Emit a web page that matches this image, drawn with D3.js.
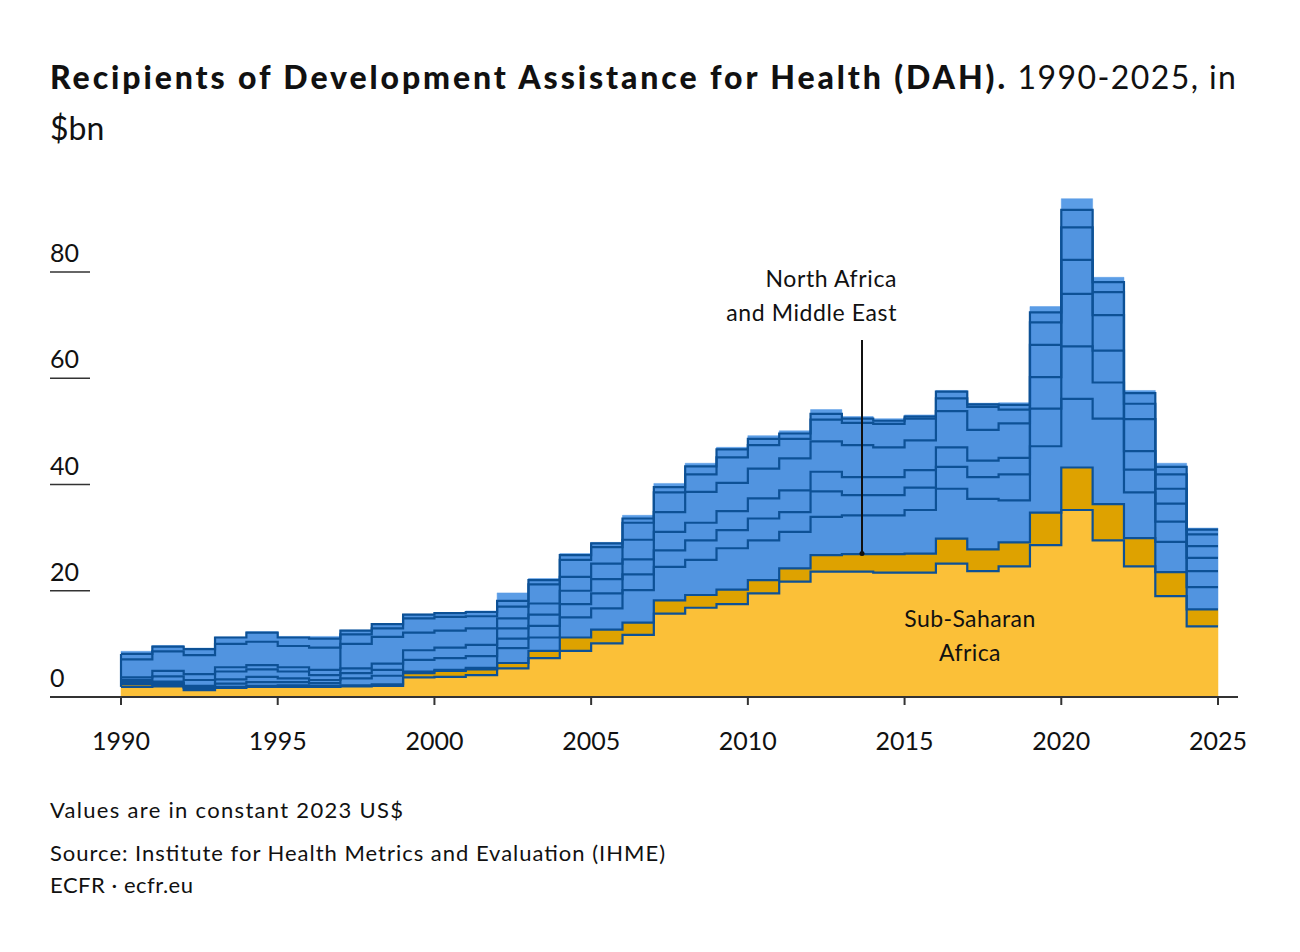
<!DOCTYPE html>
<html><head><meta charset="utf-8">
<script src="https://cdn.jsdelivr.net/npm/d3@7"></script>
<style>body{margin:0;background:#fff}svg{font-family:Lato,"Noto Sans",sans-serif}</style>
</head><body><svg id="c" width="1300" height="952"></svg>
<script>
const years = d3.range(1990, 2025);
// cumulative stack tops ($bn)
const ssaTop  = [1.9,2.0,1.3,1.7,1.9,1.9,1.9,2.0,2.1,3.7,3.8,4.1,5.4,7.3,8.7,10.1,11.7,15.7,16.8,17.5,19.5,21.7,23.6,23.6,23.4,23.4,25.1,23.7,24.6,28.6,35.2,29.5,24.6,19.0,13.3];
const nameTop = [2.4,2.3,1.7,1.9,2.1,2.2,2.1,2.2,2.4,4.5,4.9,5.2,6.4,8.7,11.2,12.7,14.0,18.2,19.2,20.2,22.0,24.2,26.7,26.9,26.9,27.0,29.8,27.8,29.1,34.7,43.2,36.3,29.9,23.5,16.5];
const blue1Top = [2.6,2.6,1.9,2.5,2.8,2.8,2.6,3.5,4.0,4.8,5.1,5.5,9.2,11.2,15.0,16.7,20.1,24.5,25.8,28.0,29.5,31.1,33.9,34.2,34.2,35.2,39.2,37.3,37.0,47.2,56.1,52.4,38.5,29.2,20.7];
const blue2Top = [2.8,2.9,2.1,3.3,3.8,3.5,3.2,4.5,5.1,7.0,7.3,7.7,11.0,13.4,17.5,19.5,23.1,27.6,29.5,31.4,33.6,34.8,38.7,38.0,38.0,39.4,43.3,41.4,41.9,54.3,66.0,59.2,42.8,33.0,23.7];
const blue3Top = [3.2,3.9,3.2,4.8,5.2,4.8,4.1,5.4,6.3,8.8,9.3,9.8,12.9,15.5,20.0,22.2,25.9,31.1,32.8,35.0,37.4,38.9,42.4,41.4,41.4,42.7,47.0,44.5,45.0,60.2,75.9,65.2,46.3,36.4,26.2];
const blue4Top = [3.7,4.9,4.3,5.6,6.0,5.6,5.1,10.0,11.3,12.1,12.5,12.9,14.8,17.6,22.6,25.1,29.6,34.8,38.6,40.3,43.0,44.9,48.1,47.4,47.0,48.3,53.8,50.3,51.5,66.3,82.3,71.9,52.3,39.2,28.4];
const blue5Top = [7.1,8.6,7.9,10.0,10.4,9.6,9.3,11.8,12.9,14.8,15.1,15.2,17.0,21.2,25.8,28.2,32.8,38.5,41.9,45.1,47.4,48.6,52.2,51.6,51.4,52.4,56.2,54.6,54.1,70.5,88.4,76.2,55.2,41.9,30.6];
const blue6Top = [8.1,9.5,9.0,11.2,12.1,11.2,11.0,12.5,13.7,15.5,15.8,16.0,18.1,22.0,26.7,28.9,33.6,39.5,43.4,46.6,48.6,49.6,53.3,52.4,52.0,52.8,57.5,55.1,55.0,72.4,91.7,78.1,57.2,43.3,31.5];
const totalTop = [8.6,9.7,9.2,11.3,12.3,11.4,11.4,12.6,13.8,15.6,15.9,16.2,19.6,22.3,27.0,29.1,34.2,40.2,44.0,47.0,49.2,50.1,54.1,52.8,52.4,53.1,57.7,55.3,55.4,73.5,93.8,79.0,57.7,44.0,31.8];
const xTicks = [1990,1995,2000,2005,2010,2015,2020,2025];
const yTicks = [0,20,40,60,80];

const tops = [ssaTop,nameTop,blue1Top,blue2Top,blue3Top,blue4Top,blue5Top,blue6Top,totalTop];
const keys = ["ssa","name","b1","b2","b3","b4","b5","b6","un"];
const fills = ["#fbc038","#dea200","#5194e0","#5194e0","#5194e0","#5194e0","#5194e0","#5194e0","#5b9de6"];
const rows = years.map((yr,i)=>{const r={year:yr};keys.forEach((k,j)=>r[k]=tops[j][i]-(j?tops[j-1][i]:0));return r;});
rows.push(Object.assign({}, rows[rows.length-1], {year:2025}));
const stack = d3.stack().keys(keys)(rows);

const svg = d3.select("#c");
const x = d3.scaleLinear([1990,2025],[121,1218]);
const y = d3.scaleLinear([0,80],[697,272]);

const area = d3.area().curve(d3.curveStepAfter).x(d=>x(d.data.year)).y0(d=>y(d[0])).y1(d=>y(d[1]));
svg.append("g").selectAll("path").data(stack).join("path")
  .attr("d",area).attr("fill",(d,i)=>fills[i]).attr("stroke",(d,i)=>fills[i]).attr("stroke-width",0.5);

const line = d3.line().curve(d3.curveStepAfter).x(d=>x(d.data.year)).y(d=>y(d[1]));
svg.append("g").selectAll("path").data(stack.slice(0,8)).join("path")
  .attr("d",line).attr("fill","none").attr("stroke","#0d5196").attr("stroke-width",2.2);
svg.append("line").attr("x1",x(1990)).attr("x2",x(1990)).attr("y1",y(ssaTop[0])).attr("y2",y(blue6Top[0]))
  .attr("stroke","#0d5196").attr("stroke-width",2.2);

// axis
svg.append("line").attr("x1",50).attr("x2",1238).attr("y1",y(0)).attr("y2",y(0)).attr("stroke","#333").attr("stroke-width",2);
const xa = svg.append("g");
xTicks.forEach(t=>{
  xa.append("line").attr("x1",x(t)).attr("x2",x(t)).attr("y1",y(0)).attr("y2",y(0)+8).attr("stroke","#333").attr("stroke-width",2);
  xa.append("text").attr("x",x(t)).attr("y",750).attr("text-anchor","middle").attr("font-size",25).attr("fill","#111").text(t);
});
yTicks.forEach(t=>{
  if(t>0) svg.append("line").attr("x1",50).attr("x2",90).attr("y1",y(t)).attr("y2",y(t)).attr("stroke","#333").attr("stroke-width",1.5);
  svg.append("text").attr("x",50).attr("y",y(t)-10).attr("font-size",25).attr("fill","#111").text(t);
});

// title
const tt = svg.append("text").attr("x",50).attr("y",89).attr("font-size",32).attr("fill","#111");
tt.append("tspan").attr("font-weight","900").attr("textLength",955).attr("lengthAdjust","spacing").text("Recipients of Development Assistance for Health (DAH).");
tt.append("tspan").attr("font-weight","400").attr("textLength",228).attr("lengthAdjust","spacing").text(" 1990-2025, in");
svg.append("text").attr("x",50).attr("y",140).attr("font-size",32).attr("fill","#111").text("$bn");

// annotations
const ann = svg.append("text").attr("text-anchor","end").attr("font-size",23).attr("letter-spacing",0.6).attr("fill","#111");
ann.append("tspan").attr("x",897).attr("y",287).text("North Africa");
ann.append("tspan").attr("x",897).attr("y",321).text("and Middle East");
svg.append("line").attr("x1",862).attr("x2",862).attr("y1",340).attr("y2",y(27)).attr("stroke","#111").attr("stroke-width",2);
svg.append("circle").attr("cx",862).attr("cy",y(27)).attr("r",2.5).attr("fill","#111");
const ss = svg.append("text").attr("text-anchor","middle").attr("font-size",23).attr("letter-spacing",0.4).attr("fill","#111");
ss.append("tspan").attr("x",970).attr("y",627).text("Sub-Saharan");
ss.append("tspan").attr("x",970).attr("y",661).text("Africa");

// footer
[["Values are in constant 2023 US$",818,353],["Source: Institute for Health Metrics and Evaluation (IHME)",861,615],["ECFR · ecfr.eu",893,143]]
 .forEach(([t,yy,w])=>svg.append("text").attr("x",50).attr("y",yy).attr("font-size",22).attr("textLength",w).attr("lengthAdjust","spacing").attr("fill","#111").text(t));
</script></body></html>
